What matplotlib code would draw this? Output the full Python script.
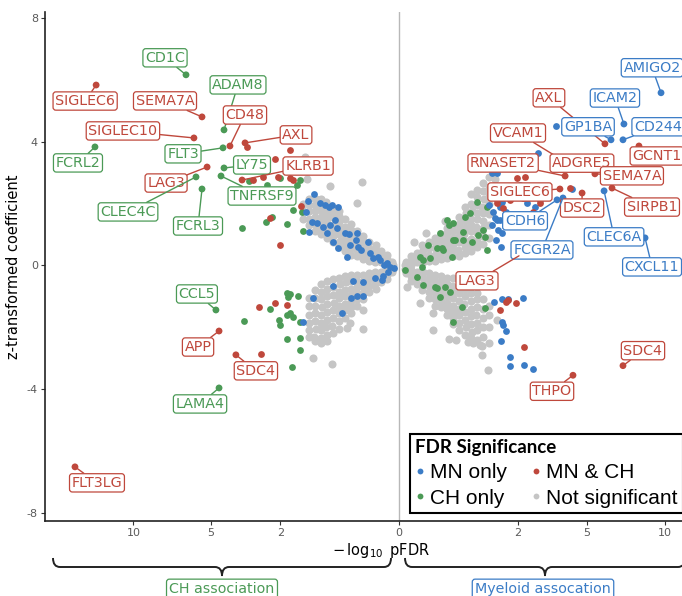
#!/usr/bin/env python3
"""
Mirrored volcano plot: CH association (left) vs myeloid association (right)
"""

import matplotlib
matplotlib.use('Agg')
import matplotlib.pyplot as plt
import numpy as np
from matplotlib.lines import Line2D
from matplotlib.path import Path
from matplotlib.patches import PathPatch

BLUE = '#3b7cc6'
RED = '#bf483c'
GREEN = '#4b9a56'
GREY = '#c5c5c5'

# x = signed -log10 pFDR (negative = CH side), z = z-transformed coefficient
# not significant, one list pair per arm of the cloud
grey_ur_x = [0.005, 0.006,
             0.020, 0.019, 0.022,
             0.046, 0.044, 0.048,
             0.082, 0.080, 0.085, 0.078,
             0.128, 0.125, 0.131, 0.126,
             0.184, 0.180, 0.188, 0.182, 0.186,
             0.250, 0.245, 0.255, 0.248, 0.252,
             0.327, 0.320, 0.333, 0.325, 0.330, 0.322,
             0.413, 0.405, 0.420, 0.410, 0.416, 0.408,
             0.510, 0.500, 0.518, 0.505, 0.515, 0.502, 0.512,
             0.617, 0.610, 0.625, 0.605, 0.620, 0.612, 0.628, 0.615,
             0.735, 0.728, 0.742, 0.730, 0.738, 0.725, 0.745, 0.732, 0.740,
             0.862, 0.855, 0.870, 0.850, 0.865, 0.858, 0.872, 0.860, 0.868,
             1.000, 0.990, 1.010, 0.995, 1.005, 0.985, 1.015, 1.000, 0.992,
             1.148, 1.140, 1.155, 1.145, 1.150, 1.138, 1.160,
             1.306, 1.300,
             0.032, 0.103, 0.300]
grey_ur_z = [0.00, 0.10,
             0.00, 0.15, 0.30,
             0.10, 0.25, 0.40,
             0.10, 0.30, 0.50, 0.65,
             0.15, 0.35, 0.55, 0.75,
             0.15, 0.35, 0.55, 0.75, 0.90,
             0.20, 0.40, 0.60, 0.80, 1.00,
             0.25, 0.45, 0.65, 0.85, 1.05, 1.20,
             0.30, 0.50, 0.70, 0.90, 1.10, 1.30,
             0.30, 0.50, 0.75, 0.95, 1.15, 1.35, 1.55,
             0.40, 0.60, 0.80, 1.00, 1.20, 1.45, 1.70, 1.90,
             0.45, 0.65, 0.85, 1.10, 1.30, 1.50, 1.75, 2.00, 2.30,
             0.60, 0.80, 1.05, 1.25, 1.50, 1.70, 1.95, 2.20, 2.45,
             0.70, 0.95, 1.20, 1.45, 1.70, 1.90, 2.15, 2.40, 2.65,
             0.90, 1.30, 1.65, 2.00, 2.30, 2.55, 2.85,
             2.50, 2.80,
             0.76, 1.05, 1.45]

grey_lr_x = [0.005, 0.006,
             0.020, 0.019, 0.022,
             0.046, 0.044, 0.048,
             0.082, 0.080, 0.085, 0.078,
             0.128, 0.125, 0.131, 0.126, 0.129,
             0.184, 0.180, 0.188, 0.182, 0.186, 0.181,
             0.250, 0.245, 0.255, 0.248, 0.252, 0.246,
             0.327, 0.320, 0.333, 0.325, 0.330, 0.322, 0.328,
             0.413, 0.405, 0.420, 0.410, 0.416, 0.408, 0.418, 0.411,
             0.510, 0.500, 0.518, 0.505, 0.515, 0.502, 0.512, 0.508,
             0.617, 0.610, 0.625, 0.605, 0.620, 0.612, 0.628, 0.615,
             0.735, 0.728, 0.742, 0.730, 0.738, 0.725, 0.745, 0.732,
             0.862, 0.855, 0.870, 0.850, 0.865, 0.858, 0.872,
             1.000, 0.990, 1.010, 0.995, 1.005, 0.985,
             1.148, 1.140, 1.155, 1.145,
             0.675, 0.354, 0.460, 0.930, 0.976, 1.120, 1.360, 0.776,
             0.164, 0.063, 0.164, 0.009]
grey_lr_z = [-0.10, -0.25,
             -0.15, -0.35, -0.50,
             -0.20, -0.40, -0.60,
             -0.20, -0.40, -0.60, -0.80,
             -0.25, -0.45, -0.65, -0.85, -1.05,
             -0.30, -0.50, -0.70, -0.90, -1.10, -1.30,
             -0.35, -0.55, -0.75, -0.95, -1.15, -1.35,
             -0.40, -0.60, -0.80, -1.00, -1.20, -1.40, -1.60,
             -0.40, -0.65, -0.85, -1.05, -1.30, -1.50, -1.70, -1.90,
             -0.45, -0.70, -0.90, -1.15, -1.40, -1.60, -1.85, -2.10,
             -0.55, -0.75, -1.00, -1.25, -1.50, -1.75, -2.00, -2.25,
             -0.70, -0.90, -1.15, -1.40, -1.65, -1.90, -2.15, -2.35,
             -0.90, -1.10, -1.35, -1.60, -1.85, -2.10, -2.40,
             -1.10, -1.40, -1.70, -2.00, -2.30, -2.60,
             -1.30, -1.60, -2.00, -2.50,
             -2.47, -2.38, -2.41, -2.57, -2.89, -3.38, -1.76, -2.50,
             -2.08, -1.21, -1.54, -0.70]

grey_ul_x = [-0.005, -0.006,
             -0.020, -0.019, -0.022,
             -0.046, -0.044, -0.048,
             -0.082, -0.080, -0.085, -0.078,
             -0.128, -0.125, -0.131, -0.126,
             -0.184, -0.180, -0.188, -0.182, -0.186,
             -0.250, -0.245, -0.255, -0.248, -0.252,
             -0.327, -0.320, -0.333, -0.325, -0.330, -0.322,
             -0.413, -0.405, -0.420, -0.410, -0.416, -0.408,
             -0.510, -0.500, -0.518, -0.505, -0.515, -0.502, -0.512,
             -0.617, -0.610, -0.625, -0.605, -0.620, -0.612, -0.628,
             -0.735, -0.728, -0.742, -0.730, -0.738, -0.725, -0.745,
             -0.862, -0.855, -0.870, -0.850, -0.865, -0.858, -0.872,
             -1.000, -0.990, -1.010, -0.995, -1.005, -0.985,
             -1.148, -1.140, -1.155, -1.145, -1.150,
             -1.306, -1.300, -1.310,
             -0.675, -0.194, -0.250, -1.200, -1.250]
grey_ul_z = [0.00, 0.12,
             0.05, 0.20, 0.35,
             0.10, 0.30, 0.45,
             0.10, 0.30, 0.50, 0.65,
             0.15, 0.35, 0.55, 0.75,
             0.20, 0.40, 0.60, 0.80, 0.95,
             0.30, 0.50, 0.70, 0.90, 1.10,
             0.35, 0.55, 0.75, 0.95, 1.15, 1.35,
             0.45, 0.65, 0.85, 1.05, 1.25, 1.50,
             0.60, 0.80, 1.00, 1.20, 1.40, 1.60, 1.75,
             0.75, 0.95, 1.15, 1.35, 1.55, 1.75, 1.90,
             0.90, 1.10, 1.30, 1.50, 1.70, 1.90, 2.05,
             1.00, 1.20, 1.40, 1.60, 1.80, 2.00, 2.15,
             1.10, 1.35, 1.55, 1.75, 1.95, 2.15,
             1.30, 1.50, 1.75, 1.95, 2.15,
             1.50, 1.75, 2.00,
             2.57, 2.70, 2.02, 2.80, 3.50]

grey_ll_x = [-0.005, -0.006,
             -0.020, -0.019, -0.022,
             -0.046, -0.044, -0.048,
             -0.082, -0.080, -0.085, -0.078,
             -0.128, -0.125, -0.131, -0.126,
             -0.184, -0.180, -0.188, -0.182, -0.186,
             -0.250, -0.245, -0.255, -0.248, -0.252, -0.246,
             -0.327, -0.320, -0.333, -0.325, -0.330, -0.322, -0.328,
             -0.413, -0.405, -0.420, -0.410, -0.416, -0.408, -0.418,
             -0.510, -0.500, -0.518, -0.505, -0.515, -0.502, -0.512, -0.508,
             -0.617, -0.610, -0.625, -0.605, -0.620, -0.612, -0.628, -0.615,
             -0.735, -0.728, -0.742, -0.730, -0.738, -0.725, -0.745, -0.732, -0.740,
             -0.862, -0.855, -0.870, -0.850, -0.865, -0.858, -0.872, -0.860, -0.868,
             -1.000, -0.990, -1.010, -0.995, -1.005, -0.985, -1.015, -1.000,
             -1.148, -1.140, -1.155, -1.145, -1.150, -1.138,
             -1.050, -0.636, -0.383, -0.184, -0.184, -0.340]
grey_ll_z = [-0.10, -0.20,
             -0.15, -0.30, -0.45,
             -0.20, -0.35, -0.55,
             -0.20, -0.40, -0.60, -0.75,
             -0.25, -0.45, -0.65, -0.85,
             -0.30, -0.50, -0.70, -0.90, -1.10,
             -0.30, -0.50, -0.70, -0.90, -1.10, -1.30,
             -0.30, -0.50, -0.75, -0.95, -1.15, -1.35, -1.55,
             -0.35, -0.55, -0.80, -1.00, -1.25, -1.45, -1.70,
             -0.40, -0.60, -0.85, -1.05, -1.30, -1.55, -1.80, -2.05,
             -0.45, -0.70, -0.95, -1.20, -1.45, -1.70, -1.95, -2.20,
             -0.50, -0.75, -1.00, -1.25, -1.50, -1.75, -2.00, -2.25, -2.45,
             -0.60, -0.85, -1.10, -1.35, -1.60, -1.85, -2.10, -2.35, -2.50,
             -0.80, -1.05, -1.30, -1.55, -1.80, -2.05, -2.30, -2.45,
             -1.05, -1.30, -1.60, -1.85, -2.10, -2.30,
             -2.98, -3.17, -2.02, -2.05, -1.44, -1.86]

# MN only (unlabelled)
blue_x = [-1.024, -1.174, -0.884, -0.776, -0.694, -0.527, -1.226, -1.073, -0.953,
          -0.819, -0.675, -0.580, -0.545, -0.735, -0.617, -0.413, -0.354, -0.250,
          -0.262, -0.238, -0.340, -0.205, -0.136, -0.119, -0.063, -0.051, -0.032,
          -0.012, -0.020, -0.096, -0.383, -0.527, -1.148, -0.636,
          -0.036, -0.041, -0.082, -0.184, -0.300, -0.617, -0.327, -0.250, -0.184,
          -0.460, -1.048, -1.306, -0.017, -0.004,
          1.361, 1.684, 1.361, 1.446, 1.361, 1.504, 1.474, 2.179, 2.322, 2.818,
          3.104, 2.738, 4.242, 2.621, 1.504, 1.907, 1.306, 1.389, 1.446, 1.592,
          1.746, 1.252, 1.226, 1.333, 2.075, 2.432, 1.148, 1.623, 3.493, 1.226,
          1.279, 1.504, 1.684, 2.179, 1.504, 1.533, 1.623, 1.474, 1.746, 1.746,
          2.215, 2.545]
blue_z = [2.31, 2.08, 2.02, 1.96, 1.89, 1.89, 1.73, 1.41, 1.37,
          1.24, 1.31, 1.47, 1.21, 1.05, 0.76, 1.05, 1.02, 1.05,
          0.82, 0.60, 0.66, 0.50, 0.76, 0.40, 0.27, 0.18, 0.02,
          -0.05, 0.08, 0.24, 0.27, 0.57, 1.08, 1.96,
          -0.34, -0.47, -0.40, -0.53, -0.50, -0.66, -1.05, -0.99, -0.99,
          -1.54, -1.05, -1.83, -0.20, -0.08,
          2.99, 2.44, 2.12, 1.89, 1.47, 1.05, 0.60, 2.21, 2.02, 2.12,
          2.34, 3.64, 2.47, 1.89, 2.05, 1.57, 1.54, 1.15, 1.47, 2.28,
          2.50, 1.73, 1.31, 0.82, 2.60, 2.44, 1.96, 1.73, 4.51, 2.99,
          -1.18, -1.08, -1.08, -1.05, -1.83, -1.92, -2.12, -2.44, -2.96, -3.25,
          -3.22, -3.35]

# CH only (unlabelled)
green_x = [0.714, 0.617, 0.413, 0.327, 0.580, 0.755, 0.413, 0.274, 0.205, 0.398,
           0.136, 0.082, 0.063, 0.075, 0.005, 0.046, 0.082, 0.205, 0.300, 0.238,
           0.369, 0.563, 0.413, 1.097, 1.000, 1.097, 1.048, 0.884, 0.354, 0.580,
           0.444, 0.262, 0.184, 1.048, 0.862, 0.238, 0.119,
           -3.493, -2.507, -1.778, -1.592, -1.389, -1.333, -2.469, -3.189, -1.306,
           -1.474, -2.007, -2.286,
           -1.684, -1.446, -1.746, -1.778, -2.358, -3.405, -2.041, -2.007, -1.778,
           -1.592, -1.389, -1.778, -1.389, -1.389, -1.623, -1.684]
green_z = [1.70, 1.57, 1.37, 1.47, 0.82, 0.76, 0.82, 0.50, 0.57, 0.27,
           0.24, 0.18, 0.27, -0.05, -0.15, -0.37, -0.63, -0.73, -0.69, -1.02,
           -0.86, -1.34, -1.83, 0.50, 1.15, 1.89, -1.37, 0.99, 1.31, 1.08,
           0.82, 0.57, -0.69, 0.92, 2.05, 1.05, 0.66,
           1.21, 1.41, 1.34, 1.79, 2.76, 1.73, 2.60, 2.73, 1.12,
           2.60, 2.83, 1.57,
           -0.92, -0.99, -1.02, -0.89, -1.41, -1.79, -1.76, -1.92, -1.60,
           -1.66, -1.83, -2.38, -2.34, -2.73, -3.28, -1.54]

# MN & CH (unlabelled)
red_x = [-1.684, -2.179, -1.592, -1.684, -2.075, -2.621, -3.021, -2.358, -2.007,
         -1.361, -3.274, -2.179, -2.778, -1.778, -2.699,
         1.361, 1.533, 1.746, 1.973, 2.250, 2.545, 2.818, 2.179, 4.140,
         1.623, 1.684, 1.940, 1.446, 2.215]
red_z = [3.73, 3.44, 2.76, 2.83, 2.86, 2.86, 2.76, 1.54, 0.66,
         1.92, 3.83, -1.21, -1.34, -1.28, -2.86,
         2.02, 1.86, 2.12, 2.83, 2.86, 1.73, 2.02, 2.18, 2.50,
         -1.18, -1.12, -1.21, -1.44, -2.63]

# labelled proteins
label_names = ['CD1C', 'SIGLEC6', 'SEMA7A', 'ADAM8', 'CD48', 'SIGLEC10', 'FCRL2',
               'FLT3', 'AXL', 'LY75', 'KLRB1', 'LAG3', 'CLEC4C', 'TNFRSF9', 'FCRL3',
               'CCL5', 'APP', 'SDC4', 'LAMA4', 'FLT3LG',
               'AMIGO2', 'AXL', 'ICAM2', 'GP1BA', 'CD244', 'VCAM1', 'GCNT1',
               'RNASET2', 'ADGRE5', 'SEMA7A', 'SIGLEC6', 'DSC2', 'SIRPB1', 'CDH6',
               'FCGR2A', 'CLEC6A', 'CXCL11', 'LAG3', 'SDC4', 'THPO']
label_x = [-6.43, -13.0, -5.50, -4.34, -4.05, -5.96, -13.1,
           -4.39, -3.36, -4.34, -3.49, -5.22, -5.84, -4.49, -5.50,
           -4.75, -4.59, -3.77, -4.59, -14.88,
           9.73, 6.01, 7.17, 6.37, 7.11, 4.39, 8.16,
           3.91, 4.90, 5.44, 3.67, 4.75, 6.43, 3.54,
           3.81, 5.96, 8.58, 2.04, 7.11, 4.29]
label_z = [6.16, 5.83, 4.80, 4.38, 3.86, 4.12, 3.83,
           3.80, 3.96, 3.15, 2.76, 3.18, 2.86, 2.89, 2.47,
           -1.44, -2.12, -2.89, -3.96, -6.51,
           5.58, 3.93, 4.57, 4.06, 4.06, 3.15, 3.86,
           2.89, 3.24, 2.96, 2.47, 2.34, 2.50, 2.12,
           2.18, 2.41, 0.89, 0.31, -3.24, -3.55]
label_group = ['CH', 'both', 'both', 'CH', 'both', 'both', 'CH',
               'CH', 'both', 'CH', 'both', 'both', 'CH', 'CH', 'CH',
               'CH', 'both', 'both', 'CH', 'both',
               'MN', 'both', 'MN', 'MN', 'MN', 'both', 'both',
               'both', 'both', 'both', 'both', 'both', 'both', 'MN',
               'MN', 'MN', 'MN', 'both', 'both', 'both']

# label box offsets from their point, in pixels (layout only)
label_offsets = [(-21, 17), (-11, -16), (-37, 16), (14, 45), (15, 31), (-71, 7), (-17, -16),
                 (-40, -6), (51, 8), (28, 3), (66, 14), (-41, -16), (-68, -35), (41, -20),
                 (-4, -37), (-19, 16), (-21, -16), (20, -16), (-19, -16), (22, -16),
                 (-9, 25), (-56, 46), (-9, 26), (-23, 13), (35, 13), (-57, 35), (18, -10),
                 (-62, 13), (-3, 2), (37, -2), (-40, -3), (0, -15), (40, -19), (-32, -21),
                 (-21, -52), (10, -46), (7, -29), (-42, -25), (20, 15), (-21, -16)]

GROUP_COLORS = {'MN': BLUE, 'CH': GREEN, 'both': RED}

W, H = 682, 596


def fwd(x):
    x = np.asarray(x, dtype=float)
    return np.sign(x) * np.sqrt(np.abs(x))


def inv(y):
    y = np.asarray(y, dtype=float)
    return np.sign(y) * y ** 2


def fig_xy(px, py):
    return px / W, 1 - py / H


def draw_brace(fig, x0, xm, x1, ytop=558, ymid=567, ytip=576, r=7):
    pts = [(x0, ytop), (x0, ymid), (x0 + r, ymid), (xm - r, ymid), (xm, ymid),
           (xm, ytip), (xm, ymid), (xm + r, ymid), (x1 - r, ymid), (x1, ymid),
           (x1, ytop)]
    codes = [Path.MOVETO, Path.CURVE3, Path.CURVE3, Path.LINETO, Path.CURVE3,
             Path.CURVE3, Path.CURVE3, Path.CURVE3, Path.LINETO, Path.CURVE3,
             Path.CURVE3]
    verts = [fig_xy(px, py) for px, py in pts]
    patch = PathPatch(Path(verts, codes), fill=False, lw=1.4, ec='#222222',
                      transform=fig.transFigure)
    fig.add_artist(patch)


def generate_chart():
    fig = plt.figure(figsize=(W / 100, H / 100), dpi=100)
    ax = fig.add_axes([45 / W, 75 / H, 637 / W, 509 / H])
    ax.set_xscale('function', functions=(fwd, inv))
    ax.set_xlim(-17.76, 11.35)
    ax.set_ylim(-8.26, 8.19)

    ax.axvline(0, color='#b8b8b8', lw=1.0, zorder=0)

    gx = grey_ur_x + grey_lr_x + grey_ul_x + grey_ll_x
    gz = grey_ur_z + grey_lr_z + grey_ul_z + grey_ll_z
    ax.scatter(gx, gz, s=34, color=GREY, linewidths=0, zorder=1)
    ax.scatter(green_x, green_z, s=24, color=GREEN, linewidths=0, zorder=2)
    ax.scatter(blue_x, blue_z, s=24, color=BLUE, linewidths=0, zorder=2)
    ax.scatter(red_x, red_z, s=24, color=RED, linewidths=0, zorder=2)

    lab_colors = [GROUP_COLORS[g] for g in label_group]
    ax.scatter(label_x, label_z, s=24, color=lab_colors, linewidths=0, zorder=3)

    for name, x, z, c, (dx, dy) in zip(label_names, label_x, label_z,
                                       lab_colors, label_offsets):
        arrow = None
        if np.hypot(dx, dy) > 12:
            arrow = dict(arrowstyle='-', color=c, lw=1.0, shrinkA=0, shrinkB=0)
        ax.annotate(name, xy=(x, z), xytext=(dx, dy), textcoords='offset pixels',
                    ha='center', va='center', fontsize=10.3, color=c,
                    bbox=dict(boxstyle='round,pad=0.15,rounding_size=0.2',
                              fc='white', ec=c, lw=0.9),
                    arrowprops=arrow, annotation_clip=False, zorder=5)

    ax.set_xticks([-10, -5, -2, 0, 2, 5, 10])
    ax.set_xticklabels(['10', '5', '2', '0', '2', '5', '10'])
    ax.set_yticks([-8, -4, 0, 4, 8])
    ax.set_yticklabels(['-8', '-4', '0', '4', '8'])
    ax.tick_params(length=3, width=0.8, color='#333333', labelsize=8,
                   labelcolor='#5a5a5a', pad=2)
    for side in ('top', 'right'):
        ax.spines[side].set_visible(False)
    for side in ('left', 'bottom'):
        ax.spines[side].set_linewidth(1.2)
        ax.spines[side].set_color('#222222')

    ax.set_xlabel(r'$-\,\log_{10}$ pFDR', fontsize=10.5)
    ax.xaxis.set_label_coords(0.527, -0.04)
    ax.set_ylabel('z-transformed coefficient', fontsize=10.5)

    handles = [Line2D([], [], ls='', marker='o', markersize=4.2, color=c, mew=0)
               for c in (BLUE, GREEN, RED, GREY)]
    leg = ax.legend(handles, ['MN only', 'CH only', 'MN & CH', 'Not significant'],
                    ncol=2, loc='lower left', bbox_to_anchor=(0.573, 0.016),
                    borderaxespad=0,
                    title='FDR Significance', alignment='left',
                    frameon=True, fancybox=False, edgecolor='black', framealpha=1,
                    borderpad=0.25, handlelength=0.45, handletextpad=0.25,
                    columnspacing=1.2, labelspacing=0.32,
                    prop={'family': 'Liberation Sans', 'size': 15},
                    title_fontproperties={'family': 'Lato', 'weight': 'bold',
                                          'size': 13.5})
    leg.get_frame().set_linewidth(1.5)
    leg.set_zorder(10)

    draw_brace(fig, 53, 222, 391)
    draw_brace(fig, 405, 545, 685)
    fx, fy = fig_xy(222, 589)
    fig.text(fx, fy, 'CH association', ha='center', va='center', fontsize=10.3,
             color=GREEN, bbox=dict(boxstyle='round,pad=0.2,rounding_size=0.2',
                                    fc='white', ec=GREEN, lw=0.9))
    fx, fy = fig_xy(543, 589)
    fig.text(fx, fy, 'Myeloid assocation', ha='center', va='center', fontsize=10.3,
             color=BLUE, bbox=dict(boxstyle='round,pad=0.2,rounding_size=0.2',
                                   fc='white', ec=BLUE, lw=0.9))

    fig.savefig('out.png', dpi=100)
    plt.close(fig)


if __name__ == "__main__":
    generate_chart()
